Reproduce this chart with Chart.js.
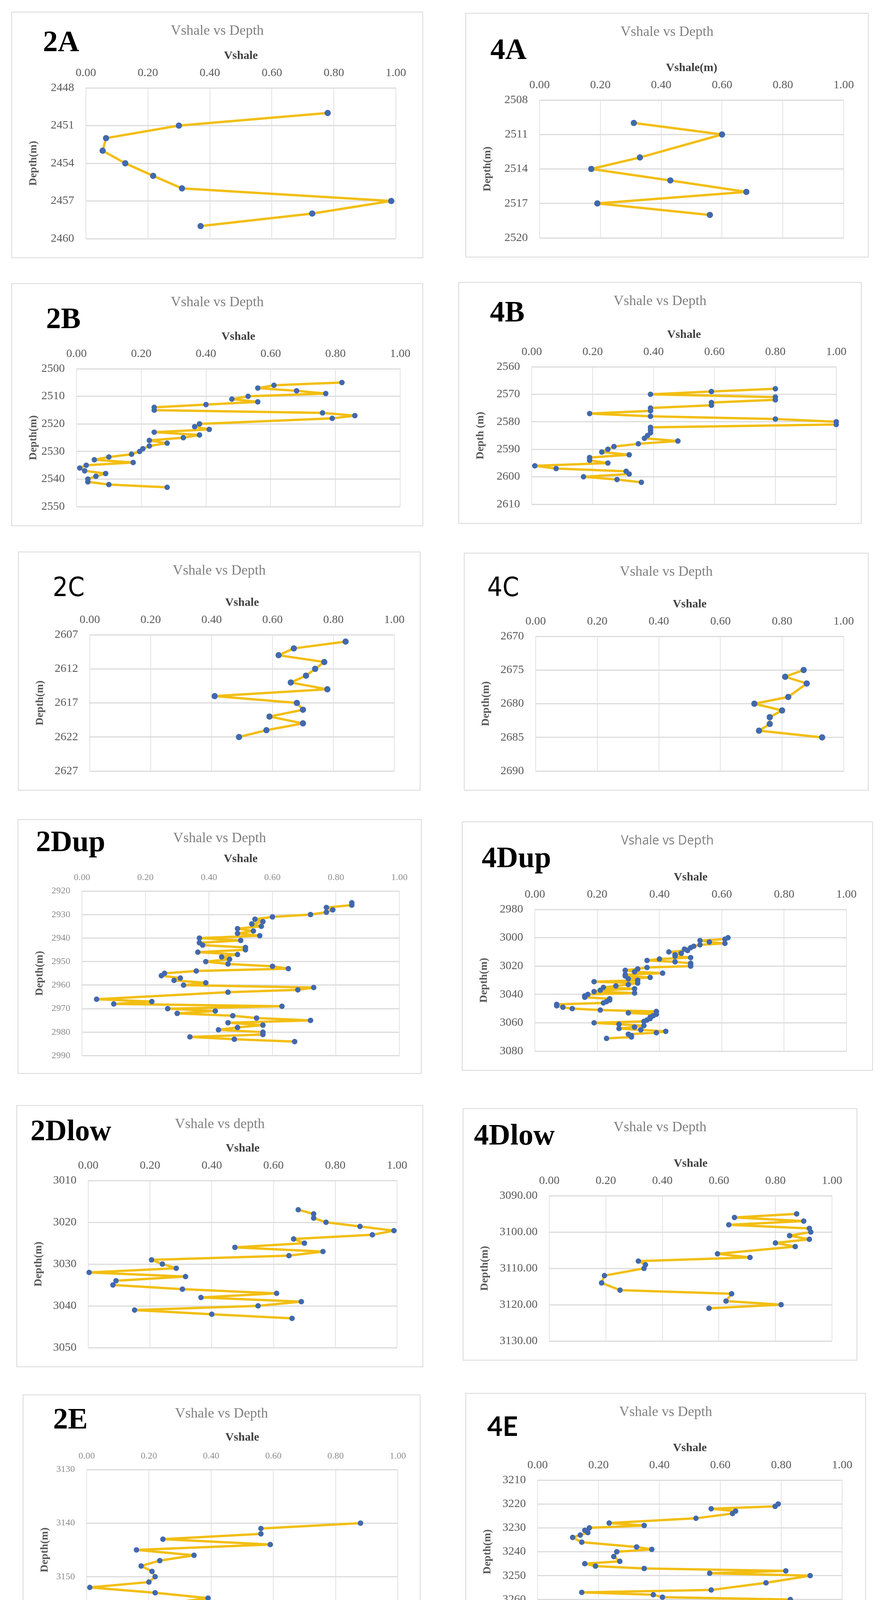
<!DOCTYPE html>
<html lang="en">
<head>
    <meta charset="UTF-8">
    <title>Vshale vs Depth</title>
    <script src="https://cdn.jsdelivr.net/npm/chart.js"></script>
    <style>
        body {
            margin: 0;
            background: #fff;
        }
        #page {
            position: relative;
            width: 2254px;
            height: 4237px;
        }
        .panel {
            position: absolute;
            background: #fff;
            border: 2px solid #d9d9d9;
            box-sizing: border-box;
        }
        .holder {
            position: absolute;
            left: 0; top: 0; right: 0; bottom: 0;
        }
        .tag {
            position: absolute;
            font-family: 'Liberation Serif', serif;
            font-weight: bold;
            font-size: 76px;
            line-height: 1;
            color: #000;
            white-space: nowrap;
        }
        .tag.sans {
            font-family: 'DejaVu Sans Condensed', 'DejaVu Sans', sans-serif;
            font-weight: normal;
            font-size: 68px;
        }
        .tag.sansbold {
            font-family: Lato, 'Open Sans', sans-serif;
            font-weight: bold;
            font-size: 68px;
        }
        .title {
            position: absolute;
            left: 0; right: 0;
            text-align: center;
            font-family: 'Liberation Serif', serif;
            font-size: 36px;
            line-height: 36px;
            color: #808080;
        }
        .title.sans {
            font-family: 'Open Sans', sans-serif;
            font-size: 32px;
        }
    </style>
</head>
<body>
<div id="page"></div>
<script>
    // Vshale axis, same for all panels
    const vshaleTicks = [0, 0.2, 0.4, 0.6, 0.8, 1.0];

    // 2A
    const depth2A = [2450, 2451, 2452, 2453, 2454, 2455, 2456, 2457, 2458, 2459];
    const vsh2A = [0.78, 0.30, 0.065, 0.054, 0.127, 0.217, 0.31, 0.985, 0.73, 0.37];
    const yTicks2A = [2448, 2451, 2454, 2457, 2460];

    // 4A
    const depth4A = [2510, 2511, 2513, 2514, 2515, 2516, 2517, 2518];
    const vsh4A = [0.31, 0.60, 0.33, 0.17, 0.43, 0.68, 0.19, 0.56];
    const yTicks4A = [2508, 2511, 2514, 2517, 2520];

    // 2B
    const depth2B = [2505, 2506, 2507, 2508, 2509, 2510, 2511, 2512, 2513, 2514, 2515, 2516, 2517, 2518,
        2520, 2521, 2522, 2523, 2524, 2525, 2526, 2527, 2528, 2529, 2530, 2531, 2532, 2533, 2534,
        2535, 2536, 2537, 2538, 2539, 2540, 2541, 2542, 2543];
    const vsh2B = [0.82, 0.61, 0.56, 0.68, 0.77, 0.53, 0.48, 0.56, 0.40, 0.24, 0.24, 0.76, 0.86, 0.79,
        0.38, 0.365, 0.41, 0.24, 0.38, 0.33, 0.225, 0.28, 0.225, 0.205, 0.195, 0.17, 0.10, 0.055, 0.175,
        0.03, 0.01, 0.025, 0.09, 0.06, 0.035, 0.035, 0.10, 0.28];
    const yTicks2B = [2500, 2510, 2520, 2530, 2540, 2550];

    // 4B
    const depth4B = [2568, 2569, 2570, 2571, 2572, 2573, 2574, 2575, 2576, 2577, 2578, 2579, 2580, 2581,
        2582, 2583, 2584, 2585, 2586, 2587, 2588, 2589, 2590, 2591, 2592, 2593, 2594, 2595, 2596,
        2597, 2598, 2599, 2600, 2601, 2602];
    const vsh4B = [0.80, 0.59, 0.39, 0.80, 0.80, 0.59, 0.59, 0.39, 0.39, 0.19, 0.39, 0.80, 1.00, 1.00,
        0.39, 0.39, 0.39, 0.38, 0.37, 0.48, 0.35, 0.27, 0.25, 0.23, 0.32, 0.19, 0.19, 0.25, 0.01,
        0.08, 0.31, 0.32, 0.17, 0.28, 0.36];
    const yTicks4B = [2560, 2570, 2580, 2590, 2600, 2610];

    // 2C
    const depth2C = [2608, 2609, 2610, 2611, 2612, 2613, 2614, 2615, 2616, 2617, 2618, 2619, 2620, 2621, 2622];
    const vsh2C = [0.84, 0.67, 0.62, 0.77, 0.74, 0.71, 0.66, 0.78, 0.41, 0.68, 0.70, 0.59, 0.70, 0.58, 0.49];
    const yTicks2C = [2607, 2612, 2617, 2622, 2627];

    // 4C
    const depth4C = [2675, 2676, 2677, 2679, 2680, 2681, 2682, 2683, 2684, 2685];
    const vsh4C = [0.87, 0.81, 0.88, 0.82, 0.71, 0.80, 0.76, 0.76, 0.725, 0.93];
    const yTicks4C = [2670, 2675, 2680, 2685, 2690];

    // 2Dup
    const depth2Dup = [2925, 2926, 2927, 2928, 2929, 2930, 2931, 2932, 2933, 2934, 2935, 2936, 2937, 2938,
        2939, 2940, 2941, 2942, 2943, 2944, 2945, 2946, 2947, 2948, 2949, 2950, 2951, 2952, 2953,
        2954, 2955, 2956, 2957, 2958, 2959, 2960, 2961, 2962, 2963, 2966, 2967, 2968, 2969, 2970,
        2971, 2972, 2973, 2974, 2975, 2976, 2977, 2978, 2979, 2980, 2981, 2982, 2983, 2984];
    const vsh2Dup = [0.85, 0.85, 0.77, 0.79, 0.77, 0.72, 0.60, 0.545, 0.57, 0.535, 0.565, 0.49, 0.54, 0.49,
        0.56, 0.37, 0.50, 0.37, 0.38, 0.515, 0.515, 0.365, 0.49, 0.44, 0.465, 0.39, 0.46, 0.60, 0.65,
        0.36, 0.26, 0.25, 0.31, 0.29, 0.39, 0.32, 0.73, 0.68, 0.46, 0.046, 0.22, 0.10, 0.63, 0.27,
        0.42, 0.30, 0.475, 0.55, 0.72, 0.46, 0.57, 0.49, 0.43, 0.57, 0.57, 0.34, 0.48, 0.67];
    const yTicks2Dup = [2920, 2930, 2940, 2950, 2960, 2970, 2980, 2990];

    // 4Dup
    const depth4Dup = [3000, 3001, 3002, 3003, 3004, 3005, 3006, 3007, 3008, 3009, 3010, 3011, 3012, 3013,
        3014, 3015, 3016, 3017, 3018, 3019, 3020, 3021, 3022, 3023, 3024, 3025, 3026, 3027, 3028,
        3029, 3030, 3031, 3032, 3033, 3034, 3035, 3036, 3037, 3038, 3039, 3040, 3041, 3042, 3043,
        3044, 3045, 3046, 3047, 3048, 3049, 3050, 3051, 3052, 3053, 3054, 3055, 3056, 3057, 3058,
        3059, 3060, 3061, 3062, 3063, 3064, 3065, 3066, 3067, 3068, 3069, 3070, 3071];
    const vsh4Dup = [0.62, 0.61, 0.53, 0.56, 0.61, 0.53, 0.51, 0.50, 0.48, 0.49, 0.43, 0.47, 0.45, 0.45,
        0.50, 0.40, 0.36, 0.45, 0.50, 0.50, 0.50, 0.36, 0.33, 0.29, 0.32, 0.41, 0.29, 0.29, 0.37,
        0.30, 0.33, 0.19, 0.33, 0.30, 0.26, 0.22, 0.32, 0.21, 0.19, 0.32, 0.17, 0.16, 0.16, 0.24,
        0.24, 0.23, 0.22, 0.07, 0.07, 0.09, 0.12, 0.21, 0.39, 0.30, 0.39, 0.38, 0.37, 0.37, 0.36,
        0.35, 0.19, 0.27, 0.35, 0.32, 0.27, 0.34, 0.42, 0.39, 0.30, 0.31, 0.31, 0.23];
    const yTicks4Dup = [2980, 3000, 3020, 3040, 3060, 3080];

    // 2Dlow
    const depth2Dlow = [3017, 3018, 3019, 3020, 3021, 3022, 3023, 3024, 3025, 3026, 3027, 3028, 3029, 3030,
        3031, 3032, 3033, 3034, 3035, 3036, 3037, 3038, 3039, 3040, 3041, 3042, 3043];
    const vsh2Dlow = [0.68, 0.73, 0.73, 0.77, 0.88, 0.99, 0.92, 0.665, 0.70, 0.475, 0.76, 0.65, 0.205, 0.24,
        0.285, 0.003, 0.315, 0.09, 0.08, 0.305, 0.61, 0.365, 0.69, 0.55, 0.15, 0.40, 0.66];
    const yTicks2Dlow = [3010, 3020, 3030, 3040, 3050];

    // 4Dlow
    const depth4Dlow = [3095, 3096, 3097, 3098, 3099, 3100, 3101, 3102, 3103, 3104, 3106, 3107, 3108, 3109,
        3110, 3112, 3114, 3116, 3117, 3119, 3120, 3121];
    const vsh4Dlow = [0.875, 0.655, 0.90, 0.635, 0.92, 0.925, 0.85, 0.92, 0.80, 0.87, 0.595, 0.71, 0.315, 0.34,
        0.335, 0.195, 0.185, 0.25, 0.645, 0.625, 0.82, 0.565];
    const yTicks4Dlow = [3090, 3100, 3110, 3120, 3130];

    // 2E
    const depth2E = [3140, 3141, 3142, 3143, 3144, 3145, 3146, 3147, 3148, 3149, 3150, 3151, 3152, 3153,
        3154, 3155, 3156, 3157];
    const vsh2E = [0.88, 0.56, 0.56, 0.245, 0.59, 0.16, 0.345, 0.235, 0.175, 0.21, 0.22, 0.20, 0.01, 0.22,
        0.39, 0.26, 0.345, 0.61];
    const yTicks2E = [3130, 3140, 3150, 3160];

    // 4E
    const depth4E = [3220, 3221, 3222, 3223, 3224, 3226, 3228, 3229, 3230, 3231, 3232, 3233, 3234, 3236,
        3238, 3239, 3240, 3242, 3244, 3245, 3246, 3247, 3248, 3249, 3250, 3253, 3256, 3257, 3258,
        3259, 3260];
    const vsh4E = [0.79, 0.78, 0.57, 0.65, 0.64, 0.52, 0.235, 0.35, 0.17, 0.155, 0.165, 0.14, 0.115, 0.145,
        0.325, 0.375, 0.26, 0.25, 0.27, 0.155, 0.19, 0.35, 0.815, 0.565, 0.895, 0.75, 0.57, 0.145, 0.38,
        0.41, 0.83];
    const yTicks4E = [3210, 3220, 3230, 3240, 3250, 3260, 3270];

    // panel layout: box = [left, top, width, height], plot = insets [left, right, top, bottom]
    const panels = [
        { tag: '2A', depth: depth2A, vsh: vsh2A, yTicks: yTicks2A, title: 'Vshale vs Depth', xTitle: 'Vshale', yTitle: 'Depth(m)',
          box: [29, 30, 1055, 631], plot: [189, 68, 193, 39], tagAt: [79, 100], dot: 8 },
        { tag: '4A', depth: depth4A, vsh: vsh4A, yTicks: yTicks4A, title: 'Vshale vs Depth', xTitle: 'Vshale(m)', yTitle: 'Depth(m)',
          box: [1192, 33, 1033, 626], plot: [188, 62, 221, 40], tagAt: [62, 117], dot: 8 },
        { tag: '2B', depth: depth2B, vsh: vsh2B, yTicks: yTicks2B, title: 'Vshale vs Depth', xTitle: 'Vshale', yTitle: 'Depth(m)',
          box: [29, 725, 1055, 622], plot: [165, 57, 217, 35], tagAt: [87, 114] },
        { tag: '4B', depth: depth4B, vsh: vsh4B, yTicks: yTicks4B, title: 'Vshale vs Depth', xTitle: 'Vshale', yTitle: 'Depth (m)',
          box: [1174, 722, 1033, 619], plot: [186, 63, 215, 35], tagAt: [79, 100] },
        { tag: '2C', depth: depth2C, vsh: vsh2C, yTicks: yTicks2C, title: 'Vshale vs Depth', xTitle: 'Vshale', yTitle: 'Depth(m)',
          box: [46, 1412, 1031, 612], plot: [182, 65, 211, 32], tagAt: [87, 113], tagClass: 'sans', dot: 8 },
        { tag: '4C', depth: depth4C, vsh: vsh4C, yTicks: yTicks4C, title: 'Vshale vs Depth', xTitle: 'Vshale', yTitle: 'Depth(m)',
          box: [1188, 1415, 1037, 609], plot: [182, 62, 212, 30], tagAt: [58, 110], tagClass: 'sans', dot: 8 },
        { tag: '2Dup', depth: depth2Dup, vsh: vsh2Dup, yTicks: yTicks2Dup, title: 'Vshale vs Depth', xTitle: 'Vshale', yTitle: 'Depth(m)',
          box: [45, 2097, 1035, 652], plot: [163, 55, 182, 29], tagAt: [45, 81], small: true },
        { tag: '4Dup', depth: depth4Dup, vsh: vsh4Dup, yTicks: yTicks4Dup, title: 'Vshale vs Depth', xTitle: 'Vshale', yTitle: 'Depth(m)',
          box: [1183, 2103, 1053, 638], plot: [185, 66, 223, 34], tagAt: [49, 116], titleClass: 'sans' },
        { tag: '2Dlow', depth: depth2Dlow, vsh: vsh2Dlow, yTicks: yTicks2Dlow, title: 'Vshale vs depth', xTitle: 'Vshale', yTitle: 'Depth(m)',
          box: [42, 2829, 1042, 671], plot: [182, 65, 191, 34], tagAt: [34, 89] },
        { tag: '4Dlow', depth: depth4Dlow, vsh: vsh4Dlow, yTicks: yTicks4Dlow, title: 'Vshale vs Depth', xTitle: 'Vshale', yTitle: 'Depth(m)',
          box: [1185, 2837, 1011, 646], plot: [220, 63, 222, 35], tagAt: [27, 92], decimals: 2 },
        { tag: '2E', depth: depth2E, vsh: vsh2E, yTicks: yTicks2E, title: 'Vshale vs Depth', xTitle: 'Vshale', yTitle: 'Depth(m)',
          box: [58, 3570, 1019, 650], plot: [162, 56, 190, 30], tagAt: [76, 86], small: true },
        { tag: '4E', depth: depth4E, vsh: vsh4E, yTicks: yTicks4E, title: 'Vshale vs Depth', xTitle: 'Vshale', yTitle: 'Depth(m)',
          box: [1192, 3566, 1026, 640], plot: [183, 59, 221, 35], tagAt: [54, 106], tagClass: 'sansbold' }
    ];

    const serif = "'Liberation Serif', 'Times New Roman', serif";
    const page = document.getElementById('page');

    panels.forEach(p => {
        const div = document.createElement('div');
        div.className = 'panel';
        div.style.left = p.box[0] + 'px';
        div.style.top = p.box[1] + 'px';
        div.style.width = p.box[2] + 'px';
        div.style.height = p.box[3] + 'px';

        const holder = document.createElement('div');
        holder.className = 'holder';
        const canvas = document.createElement('canvas');
        holder.appendChild(canvas);

        const title = document.createElement('div');
        title.className = 'title ' + (p.titleClass || '');
        title.textContent = p.title;
        title.style.top = '27px';

        const tag = document.createElement('div');
        tag.className = 'tag ' + (p.tagClass || '');
        tag.textContent = p.tag;
        const tagSize = p.tagClass ? 68 : 76;
        tag.style.left = p.tagAt[0] + 'px';
        tag.style.top = (p.tagAt[1] - 0.85 * tagSize) + 'px';

        div.append(holder, title, tag);
        page.appendChild(div);

        const tickFont = { family: serif, size: p.small ? 24 : 30 };
        const tickColor = p.small ? '#8c8c8c' : '#595959';
        const [padL, padR, padT, padB] = p.plot;

        new Chart(canvas, {
            type: 'scatter',
            data: {
                datasets: [{
                    data: p.depth.map((d, i) => ({ x: p.vsh[i], y: d })),
                    showLine: true,
                    borderColor: '#F2BE12',
                    borderWidth: 6,
                    borderJoinStyle: 'round',
                    borderCapStyle: 'round',
                    pointRadius: p.dot || 7,
                    pointBackgroundColor: '#4169AE',
                    pointBorderColor: '#4169AE',
                    pointBorderWidth: 0,
                    clip: 12
                }]
            },
            options: {
                responsive: true,
                maintainAspectRatio: false,
                animation: false,
                layout: { padding: { left: 0, top: 0, right: padR, bottom: padB } },
                plugins: {
                    legend: { display: false },
                    tooltip: { enabled: false }
                },
                scales: {
                    x: {
                        type: 'linear',
                        position: 'top',
                        min: 0,
                        max: 1,
                        afterBuildTicks: s => { s.ticks = vshaleTicks.map(v => ({ value: v })); },
                        afterFit: s => { s.height = padT; },
                        ticks: {
                            padding: 20,
                            maxRotation: 0,
                            font: tickFont,
                            color: tickColor,
                            callback: v => v.toFixed(2)
                        },
                        grid: { color: '#e3e3e3', lineWidth: 2, drawTicks: false },
                        border: { display: false },
                        title: {
                            display: true,
                            text: p.xTitle,
                            color: '#404040',
                            font: { family: serif, size: 30, weight: 'bold' },
                            padding: { top: padT - 82 - 18, bottom: 0 }
                        }
                    },
                    y: {
                        type: 'linear',
                        reverse: true,
                        min: p.yTicks[0],
                        max: p.yTicks[p.yTicks.length - 1],
                        afterBuildTicks: s => { s.ticks = p.yTicks.map(v => ({ value: v })); },
                        afterFit: s => { s.width = padL; },
                        ticks: {
                            padding: 30,
                            font: tickFont,
                            color: tickColor,
                            callback: v => p.decimals ? v.toFixed(p.decimals) : String(v)
                        },
                        grid: { color: '#dcdcdc', lineWidth: 3, drawTicks: false },
                        border: { display: false },
                        title: {
                            display: true,
                            text: p.yTitle,
                            color: '#595959',
                            font: { family: serif, size: 28, weight: 'bold' },
                            padding: { top: 38, bottom: 0 }
                        }
                    }
                }
            }
        });
    });
</script>
</body>
</html>
